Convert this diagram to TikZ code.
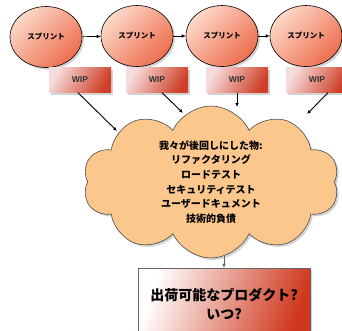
\documentclass[tikz,border=0pt]{standalone}
\usepackage{fontspec}
\setmainfont{Liberation Sans}
\newfontfamily\jp{Noto Sans CJK JP}
\usetikzlibrary{shapes.geometric,shapes.symbols,shadows,arrows.meta,calc}
\definecolor{ellA}{HTML}{FCD8C8}
\definecolor{ellB}{HTML}{EE6E4E}
\definecolor{wipA}{HTML}{F6DCDC}
\definecolor{wipB}{HTML}{CF3F28}
\definecolor{cloudC}{HTML}{FBC78C}
\definecolor{boxB}{HTML}{CF381D}
\tikzset{
  sprint/.style={ellipse, draw=black, line width=0.6pt, minimum width=72pt, minimum height=61pt,
    inner sep=0pt, left color=ellA, right color=ellB, shading angle=45,
    drop shadow={opacity=0.35, shadow xshift=2pt, shadow yshift=-2pt},
    font=\jp\bfseries\fontsize{7.5}{9}\selectfont},
  wip/.style={rectangle, minimum width=62pt, minimum height=25pt, inner sep=0pt,
    left color=wipA, right color=wipB, shading angle=60,
    drop shadow={opacity=0.35, shadow xshift=2pt, shadow yshift=-2pt},
    font=\bfseries\fontsize{8.5}{9}\selectfont, text=black!80},
  arr/.style={-{Latex[length=4pt,width=3.5pt]}, line width=0.9pt, black},
  cloudbox/.style={cloud, cloud puffs=10, cloud puff arc=130, cloud ignores aspect,
    minimum width=256pt, minimum height=152pt, inner sep=0pt, draw=black!70, line width=0.6pt,
    fill=cloudC, drop shadow={opacity=0.35, shadow xshift=2pt, shadow yshift=-2pt},
    align=center, font=\jp\bfseries\fontsize{10}{14.7}\selectfont},
  shipbox/.style={rectangle, draw=black!60, line width=0.5pt, minimum width=172pt, minimum height=72pt,
    left color=white, right color=boxB, shading angle=70,
    drop shadow={opacity=0.35, shadow xshift=2pt, shadow yshift=-2pt},
    align=center, font=\jp\bfseries\fontsize{14}{19}\selectfont},
}
\begin{document}
\begin{tikzpicture}[x=1pt,y=-1pt]
\useasboundingbox (0,0) rectangle (342,330);
\clip (0,0) rectangle (342,330);
\node[sprint] (s1) at (46,37) {スプリント};
\node[sprint] (s2) at (137,36) {スプリント};
\node[sprint] (s3) at (222,36) {スプリント};
\node[sprint] (s4) at (306,36) {スプリント};
\draw[arr, line width=0.6pt] (s1) -- (s2);
\draw[arr, line width=0.6pt] (s2) -- (s3);
\draw[arr, line width=0.6pt] (s3) -- (s4);
\node[wip] (w1) at (80,80) {WIP};
\node[wip] (w2) at (157,80) {WIP};
\node[wip] (w3) at (237,80) {WIP};
\node[wip] (w4) at (317,80) {WIP};
\node[cloudbox] (cl) at (211,182) {我々が後回しにした物:\\リファクタリング\\ロードテスト\\セキュリティテスト\\ユーザードキュメント\\技術的負債};
\coordinate (c1) at (117,131);
\coordinate (c2) at (183,113);
\coordinate (c3) at (237,107);
\coordinate (c4) at (307,114);
\draw[arr] ($(w1.south)+(-2,0)$) -- (c1);
\draw[arr] ($(w2.south)+(5,0)$) -- (c2);
\draw[arr] (w3.south) -- (c3);
\draw[arr] ($(w4.south)+(11,0)$) -- (c4);
\node[shipbox] (ship) at (224,304) {出荷可能なプロダクト?\\いつ?};
\coordinate (cb) at (224,256);
\draw[-{Latex[length=4pt,width=3.5pt]}, line width=0.6pt, black!60] (cb) -- (ship.north);
\end{tikzpicture}
\end{document}
